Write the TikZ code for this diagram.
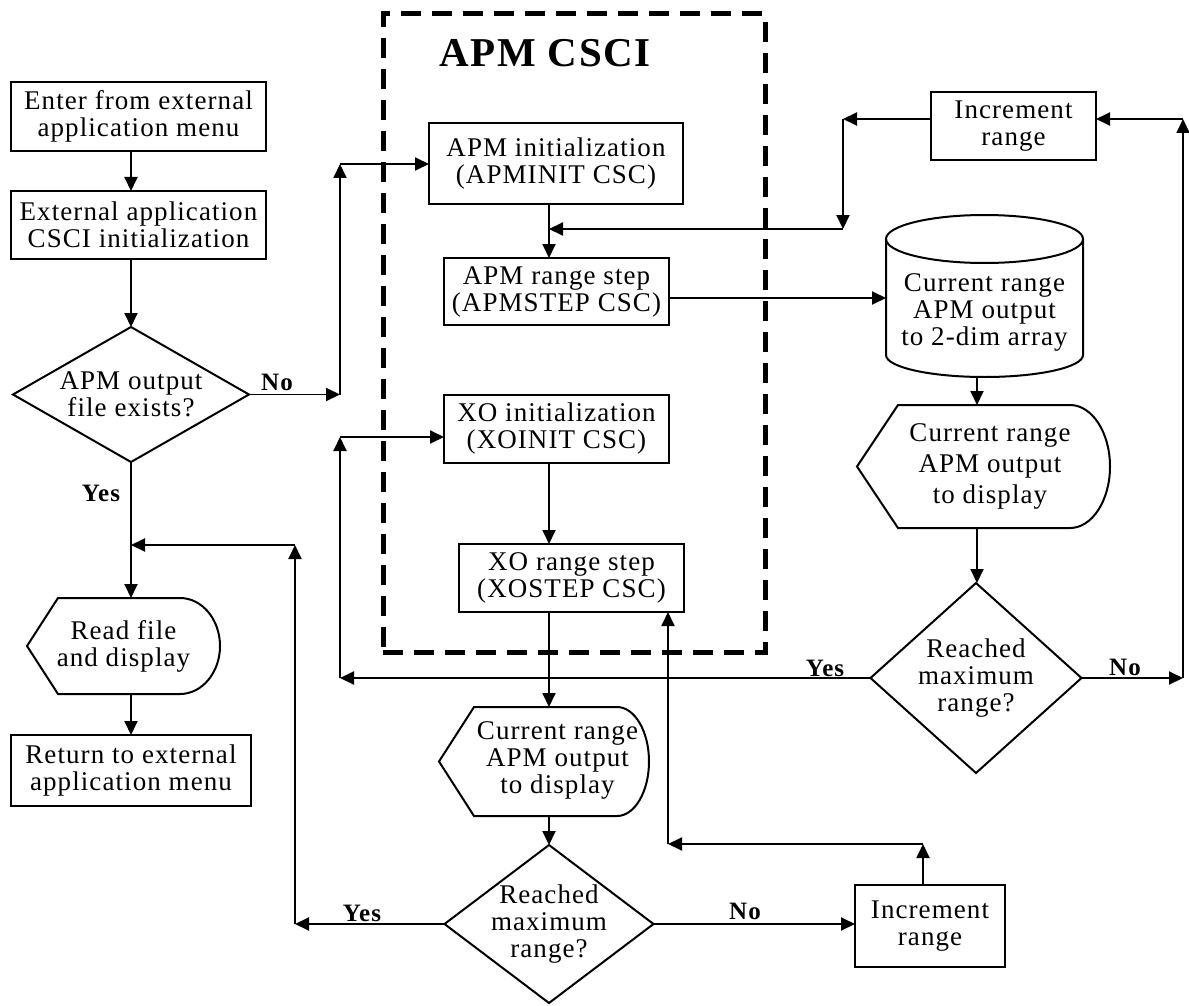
\documentclass[tikz,border=0pt]{standalone}
\usepackage{fontspec}
\setmainfont{Liberation Serif}[LetterSpace=4]
\usetikzlibrary{arrows.meta}
\newcommand\txtfont{\fontsize{27}{27}\selectfont}
\newcommand\lblfont{\fontsize{25}{27}\selectfont\bfseries}
\newcommand\drawdisp[4]{\draw[shape line] (#1.west) -- ([xshift=#2]#1.north west) -- ([xshift=-#3]#1.north east) arc[start angle=90,end angle=-90,x radius=#3,y radius=#4] -- ([xshift=#2]#1.south west) -- cycle;}
\newcommand\drawdia[1]{\draw[shape line] (#1.north) -- (#1.east) -- (#1.south) -- (#1.west) -- cycle;}
\newcommand\shiftedtext[2]{\begin{tabular}{@{\hspace{#1}}c@{}}#2\end{tabular}}
\tikzset{
  shape line/.style={line width=2pt, line join=miter},
  box/.style={draw, line width=1.8pt, inner sep=0pt, outer sep=0pt, align=center, font=\txtfont},
  txt/.style={inner sep=0pt, outer sep=0pt, font=\txtfont},
  plain/.style={txt, align=center},
  lbl/.style={inner sep=0pt, outer sep=0pt, font=\lblfont},
  arr/.style={line width=1.9pt, -{Triangle[length=14pt,width=13pt]}},
  dashbox/.style={draw, line width=5pt, dash pattern=on 20pt off 11pt, inner sep=0pt},
}
\begin{document}
\begin{tikzpicture}[x=1pt,y=-1pt]
\fill[white] (0,0) rectangle (1189,1006);
\useasboundingbox (0,0) rectangle (1189,1006);

% dashed CSCI frame and title
\node[dashbox, minimum width=382pt, minimum height=638pt] (csci) at (574,333) {};
\node[inner sep=0pt, font=\fontsize{41}{42}\selectfont\bfseries] (title) at (545,53) {APM CSCI};

% left column
\node[box, minimum width=255pt, minimum height=69pt] (enter) at (138.5,116.5) {Enter from external\\application menu};
\node[box, minimum width=255pt, minimum height=68pt] (extinit) at (138.5,225) {External application\\CSCI initialization};
\node[plain, minimum width=236pt, minimum height=135pt] (d1) at (131,394.5) {APM output\\file exists?};
\node[plain, minimum width=193pt, minimum height=96pt] (read) at (123.5,646) {Read file\\and display};
\node[box, minimum width=240pt, minimum height=71pt] (return) at (131,770.5) {Return to external\\application menu};

% middle column
\node[box, minimum width=254pt, minimum height=81pt] (apminit) at (556,163.5) {APM initialization\\(APMINIT CSC)};
\node[box, minimum width=225pt, minimum height=67pt] (apmstep) at (556.5,291.5) {APM range step\\(APMSTEP CSC)};
\node[box, minimum width=225pt, minimum height=68pt] (xoinit) at (556.5,429) {XO initialization\\(XOINIT CSC)};
\node[box, minimum width=225pt, minimum height=68pt] (xostep) at (571.5,578) {XO range step\\(XOSTEP CSC)};
\node[txt, minimum width=210pt, minimum height=109pt] (disp3) at (544,761.5) {\shiftedtext{27pt}{Current range\\APM output\\to display}};
\node[plain, minimum width=209pt, minimum height=158pt] (d2) at (549,924) {Reached\\maximum\\range?};
\node[box, minimum width=150pt, minimum height=82pt] (inc2) at (930,926) {Increment\\range};

% right column
\node[box, minimum width=165pt, minimum height=68pt] (inc1) at (1013.5,126) {Increment\\range};
\node[txt, minimum width=197pt, minimum height=162pt] (cyl) at (984.5,296) {};
\node[plain] (cyltext) at (984.5,312) {Current range\\APM output\\to 2-dim array};
\node[txt, minimum width=253pt, minimum height=123pt, font=\fontsize{27}{31}\selectfont] (disp2) at (983.5,466.5) {\shiftedtext{13pt}{Current range\\APM output\\to display}};
\node[plain, minimum width=211pt, minimum height=190pt] (d3) at (976,678) {Reached\\maximum\\range?};

% outlines of special shapes
\drawdia{d1}
\drawdia{d2}
\drawdia{d3}
\drawdisp{read}{31pt}{40pt}{48pt}
\drawdisp{disp2}{41pt}{40pt}{61.5pt}
\drawdisp{disp3}{35pt}{32pt}{54.5pt}
\draw[shape line] ([yshift=-24pt]cyl.north west) -- ([yshift=22pt]cyl.south west)
   arc[start angle=180,end angle=360,x radius=98.5pt,y radius=22pt] -- ([yshift=-24pt]cyl.north east);
\draw[shape line] ([yshift=-24pt]cyl.north) ellipse[x radius=98.5pt,y radius=24pt];

% routing coordinates
\coordinate (xL) at (131,0);
\coordinate (xM) at (549,0);
\coordinate (xR) at (977,0);
\coordinate (j1) at (340,394.5);
\coordinate (j2) at (340,164);
\coordinate (j3) at (843,119);
\coordinate (j4) at (843,229);
\coordinate (j14) at (886,298);
\coordinate (j5) at (1183,678);
\coordinate (j6) at (1183,119);
\coordinate (j7) at (340,678);
\coordinate (j8) at (340,437);
\coordinate (j9) at (923,844);
\coordinate (j10) at (668,844);
\coordinate (j11) at (295,924);
\coordinate (j12) at (295,545);
\coordinate (j13) at (131,545);

% connectors
\draw[arr] (enter.south -| xL) -- (extinit.north -| xL);
\draw[arr] (extinit.south -| xL) -- (d1.north);
\draw[arr] (d1.east) -- (j1);
\draw[arr] (j1) -- (j2);
\draw[arr] (j2) -- (j2 -| apminit.west);
\draw[arr] (apminit.south -| xM) -- (apmstep.north -| xM);
\draw[arr] (j3 -| inc1.west) -- (j3);
\draw[arr] (j3) -- (j4);
\draw[arr] (j4) -- (j4 -| xM);
\draw[arr] (j14 -| apmstep.east) -- (j14);
\draw[arr] (cyl.south -| xR) -- (disp2.north -| xR);
\draw[arr] (disp2.south -| xR) -- (d3.north -| xR);
\draw[arr] (d3.east) -- (j5);
\draw[arr] (j5) -- (j6);
\draw[arr] (j6) -- (j6 -| inc1.east);
\draw[arr] (d3.west) -- (j7);
\draw[arr] (j7) -- (j8);
\draw[arr] (j8) -- (j8 -| xoinit.west);
\draw[arr] (xoinit.south -| xM) -- (xostep.north -| xM);
\draw[arr] (xostep.south -| xM) -- (disp3.north -| xM);
\draw[arr] (disp3.south -| xM) -- (d2.north);
\draw[arr] (d2.east) -- (d2.east -| inc2.west);
\draw[arr] (inc2.north -| j9) -- (j9);
\draw[arr] (j9) -- (j10);
\draw[arr] (j10) -- (xostep.south -| j10);
\draw[arr] (d2.west) -- (j11);
\draw[arr] (j11) -- (j12);
\draw[arr] (j12) -- (j13);
\draw[arr] (d1.south) -- (read.north -| xL);
\draw[arr] (read.south -| xL) -- (return.north -| xL);

% branch labels
\node[lbl] (noA) at (277,382) {No};
\node[lbl] (yesA) at (101,493) {Yes};
\node[lbl] (yesB) at (825,668) {Yes};
\node[lbl] (noB) at (1125,667) {No};
\node[lbl] (yesC) at (362,913) {Yes};
\node[lbl] (noC) at (745,911) {No};
\end{tikzpicture}
\end{document}
